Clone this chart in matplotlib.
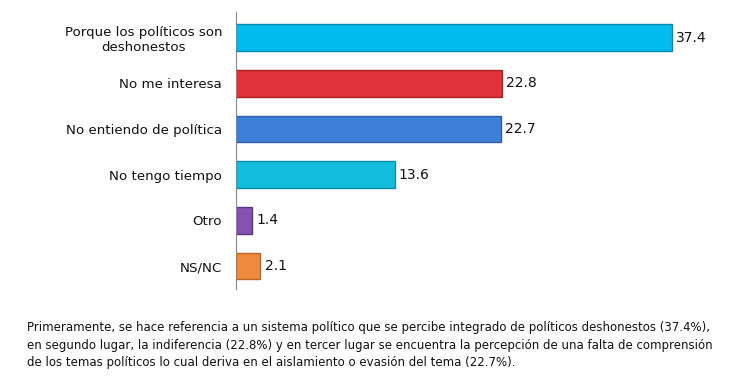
import matplotlib.pyplot as plt

categories = ["Porque los políticos son\ndeshonestos", "No me interesa", "No entiendo de política",
              "No tengo tiempo", "Otro", "NS/NC"]
values = [37.4, 22.8, 22.7, 13.6, 1.4, 2.1]
colors = ["#00BBEE", "#E0343A", "#3C80D8", "#12BCDC", "#8452B4", "#F08A3C"]
edges = ["#0089B0", "#A82028", "#2A5FA8", "#0890A8", "#5E3688", "#B8642A"]
note = ("Primeramente, se hace referencia a un sistema político que se percibe integrado de políticos deshonestos (37.4%),\n"
        "en segundo lugar, la indiferencia (22.8%) y en tercer lugar se encuentra la percepción de una falta de comprensión\n"
        "de los temas políticos lo cual deriva en el aislamiento o evasión del tema (22.7%).")

fig = plt.figure(figsize=(7.38, 3.79), dpi=100)
ax = fig.add_axes([236/738, 1-289/379, (720-236)/738, (289-12)/379])
y = list(range(len(categories)))
ax.barh(y, values, height=0.58, color=colors, edgecolor=edges, linewidth=1.0)
ax.set_ylim(len(categories)-0.5, -0.56)
ax.set_xlim(0, (720-236)/((672-236)/37.4))
ax.set_yticks(y)
ax.set_yticklabels(categories, fontsize=9.6, color="#111111")
for lbl in ax.get_yticklabels():
    lbl.set_horizontalalignment("right")
    lbl.set_multialignment("center")
    lbl.set_linespacing(1.15)
ax.tick_params(axis="y", length=0, pad=10)
ax.set_xticks([])
for s in ["top", "right", "bottom"]:
    ax.spines[s].set_visible(False)
ax.spines["left"].set_color("#888888")
for yi, v in zip(y, values):
    ax.text(v + 0.35, yi, f"{v}", va="center", ha="left", fontsize=10, color="#111111")

fig.text(27/738, 1-321.5/379, note, fontsize=8.5, va="top", ha="left", linespacing=1.42, color="#111111")
fig.savefig("out.png", dpi=100)
